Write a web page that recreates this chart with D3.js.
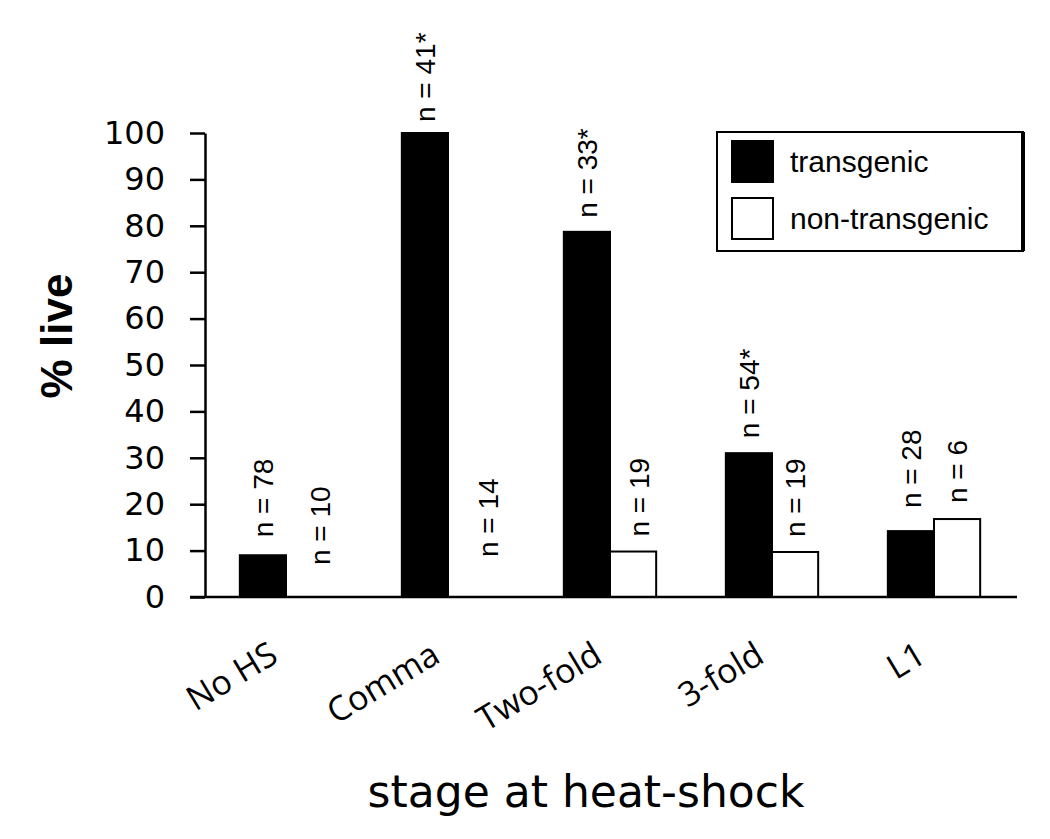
<!DOCTYPE html>
<html>
<head>
<meta charset="utf-8">
<script src="https://cdn.jsdelivr.net/npm/d3@7"></script>
<style>
  body { margin: 0; background: #fff; }
  svg { display: block; }
</style>
</head>
<body>
<svg id="chart"></svg>
<script>
// values
var categories = ["No HS", "Comma", "Two-fold", "3-fold", "L1"];
var transgenic = [9, 100, 78.7, 31, 14.2];
var nonTransgenic = [0, 0, 9.8, 9.7, 16.8];
var nTransgenic = ["n = 78", "n = 41*", "n = 33*", "n = 54*", "n = 28"];
var nNonTransgenic = ["n = 10", "n = 14", "n = 19", "n = 19", "n = 6"];
var yTicks = [0, 10, 20, 30, 40, 50, 60, 70, 80, 90, 100];
var seriesNames = ["transgenic", "non-transgenic"];

// label placement tweaks (px) - the original labels were placed by hand
var gapTrans = [18, 11, 14, 15, 23];
var gapNon = [32, 40, 15, 15, 16];
var shiftNon = [11, 17, 6, 0, 0];

var svgWidth = 1050, svgHeight = 839;
var svg = d3.select("#chart")
    .attr("width", svgWidth)
    .attr("height", svgHeight);

var x = d3.scaleBand()
    .domain(categories)
    .range([205, 1015])
    .paddingInner(0.43)
    .paddingOuter(0.215);

var xs = d3.scaleBand()
    .domain(seriesNames)
    .range([0, x.bandwidth()]);

var y = d3.scaleLinear()
    .domain([0, 100])
    .range([597, 133]);

var rows = categories.map(function(c, i) {
    return [
        { cat: c, series: "transgenic", value: transgenic[i], label: nTransgenic[i], gap: gapTrans[i], shift: 0 },
        { cat: c, series: "non-transgenic", value: nonTransgenic[i], label: nNonTransgenic[i], gap: gapNon[i], shift: shiftNon[i] }
    ];
});
var bars = d3.merge(rows);

// y axis
var yAxis = svg.append("g")
    .attr("transform", "translate(205,0)")
    .call(d3.axisLeft(y).tickValues(yTicks).tickSize(15).tickSizeOuter(0).tickPadding(25));
yAxis.selectAll("path, line").attr("stroke", "#000").attr("stroke-width", 2.5);
yAxis.selectAll("text")
    .attr("font-family", "DejaVu Sans, sans-serif")
    .attr("font-size", 32)
    .attr("fill", "#000");

// bars
svg.append("g").selectAll("rect")
    .data(bars)
    .enter()
    .append("rect")
    .attr("x", function(d) { return x(d.cat) + xs(d.series); })
    .attr("y", function(d) { return y(d.value); })
    .attr("width", xs.bandwidth())
    .attr("height", function(d) { return y(0) - y(d.value); })
    .attr("fill", function(d) { return d.series == "transgenic" ? "#000" : "#fff"; })
    .attr("stroke", "#000")
    .attr("stroke-width", 2);

// x axis baseline
svg.append("line")
    .attr("x1", 190)
    .attr("x2", x.range()[1] + 2)
    .attr("y1", y(0))
    .attr("y2", y(0))
    .attr("stroke", "#000")
    .attr("stroke-width", 2.5);

// n labels
svg.append("g").selectAll("text")
    .data(bars)
    .enter()
    .append("text")
    .attr("transform", function(d) {
        var cx = x(d.cat) + xs(d.series) + xs.bandwidth() / 2 + d.shift;
        var cy = y(d.value) - d.gap;
        return "translate(" + cx + "," + cy + ") rotate(-90)";
    })
    .attr("dy", "0.36em")
    .attr("text-anchor", "start")
    .attr("font-family", "Liberation Sans, Arial, sans-serif")
    .attr("font-size", 28)
    .text(function(d) { return d.label; });

// category labels
var xAxis = svg.append("g")
    .attr("transform", "translate(0," + y(0) + ")")
    .call(d3.axisBottom(x).tickSize(0).tickPadding(0));
xAxis.select(".domain").remove();
xAxis.selectAll("text")
    .attr("font-family", "Open Sans, sans-serif")
    .attr("font-size", 34)
    .attr("fill", "#000")
    .attr("text-anchor", "end")
    .attr("dy", 0)
    .attr("transform", "translate(-6,64) rotate(-31)");

// axis titles
svg.append("text")
    .attr("transform", "translate(72,336) rotate(-90)")
    .attr("text-anchor", "middle")
    .attr("font-family", "Liberation Sans Narrow, Liberation Sans, sans-serif")
    .attr("font-weight", "bold")
    .attr("font-size", 44)
    .text("% live");

svg.append("text")
    .attr("x", 586)
    .attr("y", 807)
    .attr("text-anchor", "middle")
    .attr("font-family", "DejaVu Sans, sans-serif")
    .attr("font-size", 44)
    .text("stage at heat-shock");

// legend
var legend = svg.append("g").attr("transform", "translate(717,132)");
legend.append("rect")
    .attr("width", 306)
    .attr("height", 119)
    .attr("fill", "#fff")
    .attr("stroke", "#000")
    .attr("stroke-width", 2);
legend.append("line")
    .attr("x1", 306).attr("x2", 306)
    .attr("y1", 0).attr("y2", 119)
    .attr("stroke", "#000")
    .attr("stroke-width", 4);

var items = legend.selectAll(".item")
    .data(seriesNames)
    .enter()
    .append("g")
    .attr("class", "item")
    .attr("transform", function(d, i) { return "translate(15," + (9 + i * 57) + ")"; });
items.append("rect")
    .attr("width", 41)
    .attr("height", 41)
    .attr("fill", function(d) { return d == "transgenic" ? "#000" : "#fff"; })
    .attr("stroke", "#000")
    .attr("stroke-width", 2);
items.append("text")
    .attr("x", 58)
    .attr("y", 31)
    .attr("font-family", "Liberation Sans, Arial, sans-serif")
    .attr("font-size", 30)
    .text(function(d) { return d; });
</script>
</body>
</html>
